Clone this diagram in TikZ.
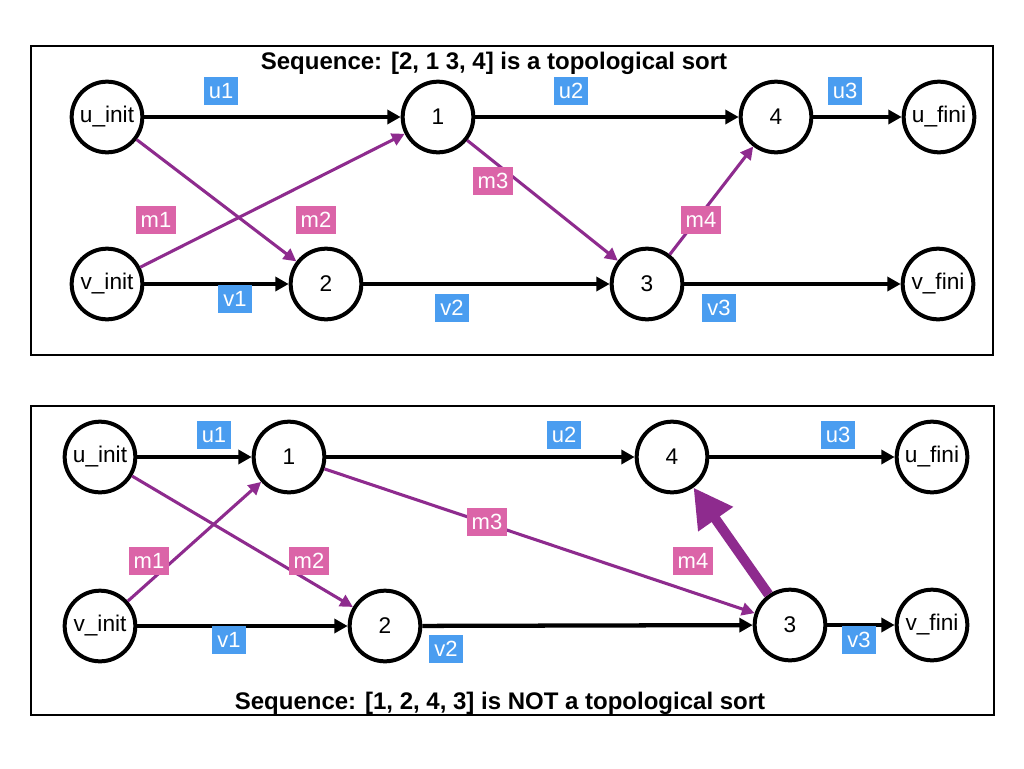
\documentclass[tikz,border=0pt]{standalone}
\usepackage{fontspec}
\setmainfont{Liberation Sans}
\usetikzlibrary{arrows.meta}
\definecolor{lblue}{RGB}{74,157,240}
\definecolor{lpink}{RGB}{219,100,168}
\definecolor{epurple}{RGB}{142,43,142}
\tikzset{
  vert/.style={circle,draw=black,line width=3pt,minimum size=53pt,inner sep=0pt,fill=white,font=\fontsize{17}{19}\selectfont},
  blab/.style={fill=lblue,text=white,minimum width=25.5pt,minimum height=20.5pt,inner sep=0pt,font=\fontsize{16.5}{18}\selectfont},
  plab/.style={fill=lpink,text=white,minimum width=30pt,minimum height=21pt,inner sep=0pt,font=\fontsize{16.5}{18}\selectfont},
  bedge/.style={draw=black,line width=3.2pt,-{Triangle[length=10pt,width=10.5pt]}},
  pedge/.style={draw=epurple,line width=2.3pt,-{Triangle[length=9.5pt,width=9.5pt]}},
  pthick/.style={draw=epurple,line width=7.5pt,-{Triangle[length=29pt,width=30pt]}},
  frame/.style={draw=black,line width=1.1pt},
  ttl/.style={font=\bfseries\fontsize{18}{20}\selectfont,inner sep=0pt}
}
\begin{document}
\begin{tikzpicture}[x=0.75pt,y=-0.75pt]
\useasboundingbox[fill=white] (0,0) rectangle (1024,768);
% ---------- top panel ----------
\draw[frame] (31,46) rectangle (993,355);
\node[ttl] (t1) at (494,63) {Sequence: [2, 1 3, 4] is a topological sort};
\node[vert] (ui) at (107,117) {u\_init};
\node[vert] (a1) at (438,117) {1};
\node[vert] (a4) at (776,117) {4};
\node[vert] (uf) at (939,117) {u\_fini};
\node[vert] (vi) at (107,284) {v\_init};
\node[vert] (a2) at (326,284) {2};
\node[vert] (a3) at (647,284) {3};
\node[vert] (vf) at (938,284) {v\_fini};
\draw[bedge] (ui) -- (a1);
\draw[bedge] (a1) -- (a4);
\draw[bedge] (a4) -- (uf);
\draw[bedge] (vi) -- (a2);
\draw[bedge] (a2) -- (a3);
\draw[bedge] (a3) -- (vf);
\draw[pedge] (ui) -- (a2);
\draw[pedge] (vi) -- (a1);
\draw[pedge] (a1) -- (a3);
\draw[pedge] (a3) -- (a4);
\node[blab] (lu1) at (221,91) {u1};
\node[blab] (lu2) at (571,91) {u2};
\node[blab] (lu3) at (845,91) {u3};
\node[blab] (lv1) at (235,299) {v1};
\node[blab] (lv2) at (452,308) {v2};
\node[blab] (lv3) at (719,308) {v3};
\node[plab] (lm1) at (156,220) {m1};
\node[plab] (lm2) at (316,220) {m2};
\node[plab] (lm3) at (493,181) {m3};
\node[plab] (lm4) at (701,220) {m4};
% ---------- bottom panel ----------
\draw[frame] (31,406) rectangle (994,715);
\node[ttl] (t2) at (500,703) {Sequence: [1, 2, 4, 3] is NOT a topological sort};
\node[vert] (bui) at (100,457) {u\_init};
\node[vert] (b1) at (289,457) {1};
\node[vert] (b4) at (672,457) {4};
\node[vert] (buf) at (932,457) {u\_fini};
\node[vert] (bvi) at (100,626) {v\_init};
\node[vert] (b2) at (385,626) {2};
\node[vert] (b3) at (790,625) {3};
\node[vert] (bvf) at (932,625) {v\_fini};
\draw[bedge] (bui) -- (b1);
\draw[bedge] (b1) -- (b4);
\draw[bedge] (b4) -- (buf);
\draw[bedge] (bvi) -- (b2);
\draw[bedge] (b2) -- (b3);
\draw[bedge] (b3) -- (bvf);
\draw[pedge] (bui) -- (b2);
\draw[pedge] (bvi) -- (b1);
\draw[pedge] (b1) -- (b3);
\draw[pthick] (b3) -- (b4);
\node[blab] (blu1) at (214,435) {u1};
\node[blab] (blu2) at (564,435) {u2};
\node[blab] (blu3) at (838,435) {u3};
\node[blab] (blv1) at (229,640) {v1};
\node[blab] (blv2) at (446,649) {v2};
\node[blab] (blv3) at (859,640) {v3};
\node[plab] (blm1) at (149,561) {m1};
\node[plab] (blm2) at (309,561) {m2};
\node[plab] (blm3) at (487,522) {m3};
\node[plab] (blm4) at (693,561) {m4};
\end{tikzpicture}
\end{document}
